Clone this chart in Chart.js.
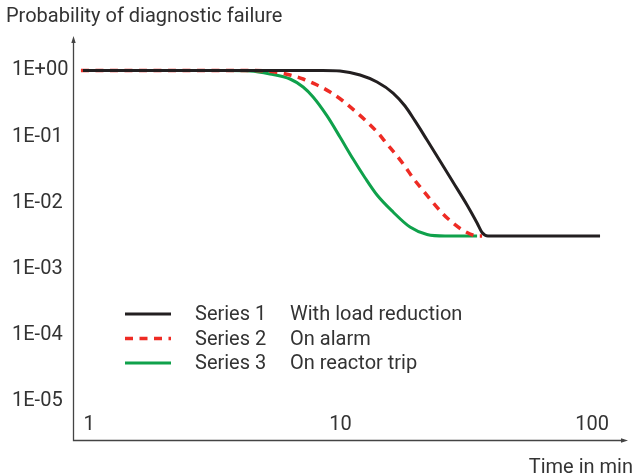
<!DOCTYPE html>
<html>
<head>
<meta charset="utf-8">
<title>Probability of diagnostic failure</title>
<script src="https://cdn.jsdelivr.net/npm/chart.js@4.4.1/dist/chart.umd.min.js"></script>
<style>
  html, body { margin: 0; padding: 0; background: #fff; }
  #wrap { width: 635px; height: 475px; }
</style>
</head>
<body>
<div id="wrap"><canvas id="failureChart"></canvas></div>
<script>
const seriesNames = ["Series 1", "Series 2", "Series 3"];
const seriesNotes = ["With load reduction", "On alarm", "On reactor trip"];

// Series 1 - with load reduction (time in min, probability)
const loadReductionTime = [0.946, 8.5, 9.95, 11.96, 13.97, 16.18, 18.05, 19.78, 22.08, 24.87, 27.99, 31.84, 34.91, 36.54, 38.57, 107.6];
const loadReductionProb = [1, 1, 0.983, 0.855, 0.670, 0.457, 0.291, 0.173, 0.0891, 0.0430, 0.0207, 0.00929, 0.00497, 0.00357, 0.00316, 0.00316];

// Series 2 - on alarm
const alarmTime = [0.929, 4.5, 5.49, 6.30, 7.10, 8.07, 9.09, 10.23, 11.42, 12.63, 13.97, 15.31, 16.78, 18.05, 19.42, 21.28, 23.12, 25.58, 27.99, 31.26, 35.24, 36.54];
const alarmProb = [1, 1, 0.949, 0.855, 0.744, 0.604, 0.473, 0.346, 0.244, 0.173, 0.118, 0.0776, 0.0511, 0.0355, 0.0238, 0.0154, 0.0105, 0.00679, 0.00497, 0.00370, 0.00316, 0.00316];

// Series 3 - on reactor trip
const tripTime = [0.929, 3.5, 4.37, 5.24, 6.30, 7.10, 7.78, 8.84, 9.95, 11.22, 12.53, 13.97, 16.18, 18.89, 22.08, 26.03, 34.91];
const tripProb = [1, 1, 0.983, 0.885, 0.744, 0.563, 0.398, 0.206, 0.0990, 0.0460, 0.0238, 0.01315, 0.00729, 0.00432, 0.00333, 0.00316, 0.00316];

const xTicks = [1, 10, 100];
const xTickLabels = ["1", "10", "100"];
const yTicks = [1, 1e-1, 1e-2, 1e-3, 1e-4, 1e-5];
const yTickLabels = ["1E+00", "1E-01", "1E-02", "1E-03", "1E-04", "1E-05"];

const textColor = "#333333";
const axisColor = "#444444";

function points(times, probs) {
    return times.map((t, i) => ({ x: t, y: probs[i] }));
}

// axis lines with small arrow heads at the ends
const axisArrows = {
    id: "axisArrows",
    afterLayout(chart) {
        // y labels sit left-aligned a little in from the canvas edge
        const y = chart.scales.y;
        y.left = chart.chartArea.left - 61;
    },
    beforeDatasetsDraw(chart) {
        const { ctx, chartArea: a } = chart;
        const x0 = Math.round(a.left) + 0.5;
        const y0 = Math.round(a.bottom) + 0.5;
        const xEnd = a.right - 5;
        ctx.save();
        ctx.strokeStyle = axisColor;
        ctx.fillStyle = axisColor;
        ctx.lineWidth = 1.3;
        ctx.beginPath();
        ctx.moveTo(x0, a.top + 4);
        ctx.lineTo(x0, y0);
        ctx.lineTo(xEnd - 4, y0);
        ctx.stroke();
        ctx.beginPath();
        ctx.moveTo(x0, a.top);
        ctx.lineTo(x0 - 2.2, a.top + 7);
        ctx.lineTo(x0 + 2.2, a.top + 7);
        ctx.closePath();
        ctx.fill();
        ctx.beginPath();
        ctx.moveTo(xEnd, y0);
        ctx.lineTo(xEnd - 7, y0 - 2.2);
        ctx.lineTo(xEnd - 7, y0 + 2.2);
        ctx.closePath();
        ctx.fill();
        ctx.restore();
    }
};

// legend inside the plot: line sample, series name, description
const noteLegend = {
    id: "noteLegend",
    afterDraw(chart) {
        const { ctx, chartArea: a } = chart;
        const left = a.left + 52;
        const top = a.top + 278;
        ctx.save();
        ctx.font = "20px Roboto";
        ctx.fillStyle = textColor;
        ctx.textBaseline = "middle";
        ctx.textAlign = "left";
        chart.data.datasets.forEach((ds, i) => {
            const y = top + i * 24.5;
            ctx.strokeStyle = ds.borderColor;
            ctx.lineWidth = ds.borderWidth;
            ctx.setLineDash(ds.borderDash || []);
            ctx.beginPath();
            ctx.moveTo(left, y);
            ctx.lineTo(left + 46, y);
            ctx.stroke();
            ctx.setLineDash([]);
            ctx.fillText(ds.label, left + 70, y + 1);
            ctx.fillText(seriesNotes[i], left + 165, y + 1);
        });
        ctx.restore();
    }
};

function draw() {
    Chart.defaults.font.family = "Roboto";
    Chart.defaults.font.size = 20;
    Chart.defaults.color = textColor;

    const data = {
        datasets: [
            {
                label: seriesNames[0],
                data: points(loadReductionTime, loadReductionProb),
                borderColor: "#231f20",
                borderWidth: 3,
            },
            {
                label: seriesNames[1],
                data: points(alarmTime, alarmProb),
                borderColor: "#ee2b24",
                borderWidth: 3.5,
                borderDash: [8, 6.5],
            },
            {
                label: seriesNames[2],
                data: points(tripTime, tripProb),
                borderColor: "#0fa14b",
                borderWidth: 3,
            },
        ],
    };

    const config = {
        type: "line",
        data: data,
        options: {
            responsive: true,
            maintainAspectRatio: false,
            animation: false,
            layout: { padding: { left: 6, right: 2, top: 0, bottom: 0 } },
            elements: {
                point: { radius: 0, hoverRadius: 0 },
                line: { cubicInterpolationMode: "monotone", fill: false },
            },
            plugins: {
                legend: { display: false },
                tooltip: { enabled: false },
                title: {
                    display: true,
                    text: "Probability of diagnostic failure",
                    align: "start",
                    color: textColor,
                    font: { size: 20, weight: "normal" },
                    padding: { top: 5, bottom: 7 },
                },
            },
            scales: {
                x: {
                    type: "logarithmic",
                    min: 0.8637,
                    max: 145.5,
                    bounds: "data",
                    grid: { display: false },
                    border: { display: false },
                    afterBuildTicks: (s) => { s.ticks = xTicks.map((v) => ({ value: v })); },
                    afterFit: (s) => { s.height = 35; },
                    ticks: {
                        mirror: true,
                        padding: 3,
                        autoSkip: false,
                        maxRotation: 0,
                        color: textColor,
                        callback: (v) => xTickLabels[xTicks.indexOf(v)],
                    },
                    title: {
                        display: true,
                        text: "Time in min",
                        align: "end",
                        color: textColor,
                        font: { size: 20, lineHeight: 1 },
                        padding: { top: 0, bottom: -3 },
                    },
                },
                y: {
                    type: "logarithmic",
                    min: 2.62e-6,
                    max: 3.32,
                    bounds: "data",
                    grid: { display: false },
                    border: { display: false },
                    afterBuildTicks: (s) => { s.ticks = yTicks.map((v) => ({ value: v })); },
                    afterFit: (s) => { s.width = 67; },
                    ticks: {
                        padding: 10,
                        crossAlign: "far",
                        autoSkip: false,
                        color: textColor,
                        callback: (v) => yTickLabels[yTicks.indexOf(v)],
                    },
                },
            },
        },
        plugins: [axisArrows, noteLegend],
    };

    new Chart(document.getElementById("failureChart"), config);
}

if (document.fonts && document.fonts.load) {
    document.fonts.load("20px Roboto").then(draw, draw);
} else {
    draw();
}
</script>
</body>
</html>
